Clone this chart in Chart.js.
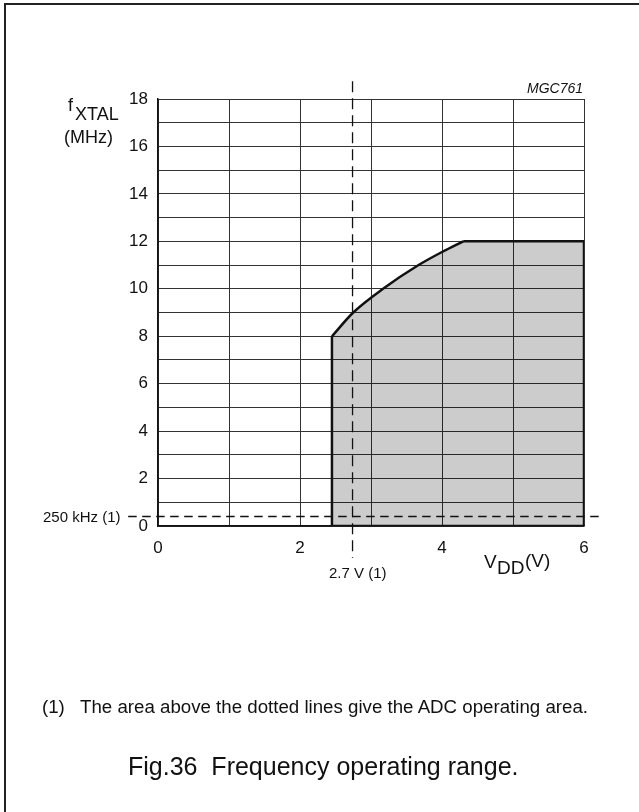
<!DOCTYPE html>
<html>
<head>
<meta charset="utf-8">
<script src="https://cdn.jsdelivr.net/npm/chart.js@4/dist/chart.umd.min.js"></script>
<style>
  body { margin: 0; background: #fff; }
  #page { position: relative; width: 639px; height: 812px; overflow: hidden;
          font-family: 'Liberation Sans', Arial, sans-serif; color: #111; }
  #frame { position: absolute; left: 4px; top: 3px; width: 640px; height: 820px;
           border-top: 2px solid #222; border-left: 2px solid #222; }
  canvas { position: absolute; left: 0; top: 0; }
  .t { position: absolute; white-space: pre; line-height: 1; }
</style>
</head>
<body>
<div id="page">
  <div id="frame"></div>
  <canvas id="freqChart" width="639" height="812"></canvas>

  <div class="t" style="left:68px; top:96px; font-size:18px;">f</div>
  <div class="t" style="left:75px; top:105px; font-size:18px;">XTAL</div>
  <div class="t" style="left:64px; top:128px; font-size:18px;">(MHz)</div>
  <div class="t" style="left:527px; top:81px; font-size:14px; font-style:italic;">MGC761</div>
  <div class="t" style="left:43px; top:509px; font-size:15px;">250 kHz (1)</div>
  <div class="t" style="left:329px; top:565px; font-size:15px;">2.7 V (1)</div>
  <div class="t" style="left:484px; top:552px; font-size:19px;">V</div>
  <div class="t" style="left:497px; top:558px; font-size:19px;">DD</div>
  <div class="t" style="left:525px; top:551px; font-size:19px;">(V)</div>
  <div class="t" style="left:42px; top:698px; font-size:18.7px;">(1)</div>
  <div class="t" style="left:80px; top:698px; font-size:18.7px;">The area above the dotted lines give the ADC operating area.</div>
  <div class="t" style="left:128px; top:754px; font-size:25px;">Fig.36  Frequency operating range.</div>
</div>

<script>
// axis ticks
const xTickLabels = [0, 2, 4, 6];
const yTickLabels = [0, 2, 4, 6, 8, 10, 12, 14, 16, 18];

// operating range boundary (VDD in V, fXTAL in MHz)
const curveVdd = [2.45, 2.75, 3.17, 3.67, 4.0, 4.3];
const curveFreq = [8, 9, 10, 11, 11.55, 12];
const flatVdd = [4.3, 6];
const flatFreq = [12, 12];
const edgeVdd = [2.45, 2.45, 6, 6];
const edgeFreq = [8, 0, 0, 12];

// ADC limits (dashed)
const adcVddLine = [2.74, 2.74];
const adcVddFreq = [18.75, -1.35];
const adcFreqVdd = [-0.42, 6.23];
const adcFreqLine = [0.4, 0.4];

const pts = (xs, ys) => xs.map((x, i) => ({ x: x, y: ys[i] }));

const black = '#111';
const shade = 'rgba(0,0,0,0.2)';

const datasets = [
  {
    // shaded area (curve + flat top), fill only
    data: pts(curveVdd.concat(flatVdd.slice(1)), curveFreq.concat(flatFreq.slice(1))),
    cubicInterpolationMode: 'monotone',
    borderWidth: 0, borderColor: 'rgba(0,0,0,0)',
    backgroundColor: shade, fill: 'origin', order: 5,
  },
  {
    data: pts(curveVdd, curveFreq),
    cubicInterpolationMode: 'monotone',
    borderColor: black, borderWidth: 2.5, fill: false, order: 1,
  },
  {
    data: pts(flatVdd, flatFreq),
    borderColor: black, borderWidth: 2.5, fill: false, order: 1,
  },
  {
    data: pts(edgeVdd, edgeFreq),
    borderColor: black, borderWidth: 2.5, fill: false, order: 1,
  },
  {
    data: pts(adcVddLine, adcVddFreq),
    borderColor: black, borderWidth: 1.3, borderDash: [11, 6],
    fill: false, clip: false, order: 1,
  },
  {
    data: pts(adcFreqVdd, adcFreqLine),
    borderColor: black, borderWidth: 1.3, borderDash: [8.5, 5.5],
    fill: false, clip: false, order: 1,
  },
];

new Chart(document.getElementById('freqChart'), {
  type: 'line',
  data: { datasets: datasets },
  options: {
    responsive: false,
    animation: false,
    devicePixelRatio: 1,
    layout: { padding: { left: 0, right: 55, top: 99, bottom: 0 } },
    elements: { point: { radius: 0 }, line: { tension: 0 } },
    plugins: { legend: { display: false }, tooltip: { enabled: false } },
    scales: {
      x: {
        type: 'linear', min: 0, max: 6,
        afterFit: (s) => { s.height = 286; },
        grid: { color: '#333', lineWidth: 1, drawTicks: false },
        border: { color: black, width: 1.5 },
        ticks: {
          stepSize: 1, padding: 12, color: black,
          font: { family: "'Liberation Sans', Arial, sans-serif", size: 17 },
          callback: (v) => xTickLabels.includes(v) ? String(v) : '',
        },
      },
      y: {
        type: 'linear', min: 0, max: 18,
        afterFit: (s) => { s.width = 158; },
        grid: { color: '#333', lineWidth: 1, drawTicks: false },
        border: { color: black, width: 1.5 },
        ticks: {
          stepSize: 1, padding: 10, color: black,
          font: { family: "'Liberation Sans', Arial, sans-serif", size: 17 },
          callback: (v) => yTickLabels.includes(v) ? String(v) : '',
        },
      },
    },
  },
});
</script>
</body>
</html>
